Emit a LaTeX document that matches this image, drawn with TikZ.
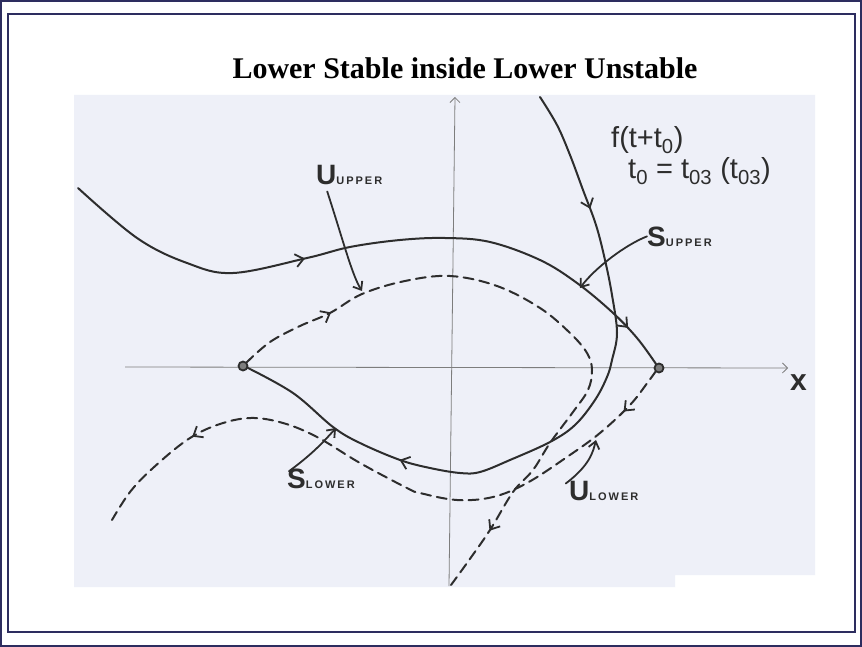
\documentclass[tikz,border=0pt]{standalone}
\usepackage{fontspec}
\setmainfont{Liberation Serif}
\setsansfont{Liberation Sans}
\usetikzlibrary{arrows.meta, decorations.markings}

\definecolor{paper}{RGB}{238,240,248}
\definecolor{frame}{RGB}{45,45,95}
\definecolor{pen}{RGB}{45,45,45}
\definecolor{axisgray}{RGB}{125,125,125}
\newcommand{\lowcaps}[1]{{\fontsize{11}{11}\selectfont\addfontfeature{LetterSpace=18}#1}}

\begin{document}
\begin{tikzpicture}[
    x=1pt, y=-1pt,
    curve/.style={draw=pen, line width=2pt, line cap=round, line join=round},
    dashcurve/.style={curve, dash pattern=on 10pt off 6pt},
    axisline/.style={draw=axisgray, line width=0.8pt, -{Straight Barb[length=5pt, width=10pt]}},
    flow/.style={postaction={decorate, decoration={markings, mark=at position #1 with {\arrow[pen, line width=1.8pt]{Straight Barb[length=8pt, width=13pt]}}}}},
    line/.style={draw=pen, line width=1.8pt, line cap=round, -{Straight Barb[length=7pt, width=11pt]}},
    hand/.style={font=\sffamily\bfseries\fontsize{28}{28}\selectfont, text=pen, inner sep=0pt, anchor=base west},
    formula/.style={hand, font=\sffamily\fontsize{29}{29}\selectfont},
    saddle/.style={circle, draw=pen, fill=axisgray, line width=1.8pt, minimum size=9pt, inner sep=0pt}
]
    \useasboundingbox (0,0) rectangle (862,647);
    \fill [white] (0,0) rectangle (862,647);
    \draw [frame, line width=2.5pt] (1,1) rectangle (861,646);
    \draw [frame, line width=1.2pt] (8,14) rectangle (855,632);
    \fill [paper] (74,95) -- (815,95) -- (815,575) -- (675,575) -- (675,587) -- (74,587) -- cycle;

    % Axes
    \coordinate (xstart) at (125,367);
    \coordinate (xend) at (788,368);
    \coordinate (ybot) at (449,586);
    \coordinate (ytop) at (455,97);
    \path [axisline] (xstart) -- (xend);
    \path [axisline] (ybot) -- (ytop);

    % Manifolds
    \path [curve, flow=0.39, flow=0.93] plot [smooth, tension=0.6] coordinates {
        (78,188) (137,238) (187,263) (233,273) (307,258) (350,247) (400,240)
        (445,238) (490,242) (540,260) (577,283) (612,312) (637,338) (656,364)};
    \path [curve, flow=0.17, flow=0.75] plot [smooth, tension=0.6] coordinates {
        (540,97) (557,125) (570,155) (583,190) (596,225) (605,260) (612,295)
        (617,333) (612,360) (607,377) (595,400) (575,425) (550,442) (510,460)
        (480,472) (460,473) (430,468) (400,460) (360,443) (333,427) (293,393) (246,367)};
    \path [dashcurve, flow=0.15, flow=0.9] plot [smooth, tension=0.6] coordinates {
        (246,363) (270,342) (300,326) (330,313) (362,294) (405,281) (450,276)
        (497,286) (540,308) (570,333) (587,353) (592,370) (588,390) (573,412)
        (550,443) (533,470) (513,492) (490,530) (467,563) (451,585)};
    \path [dashcurve, flow=0.08, flow=0.82] plot [smooth, tension=0.6] coordinates {
        (656,371) (648,382) (630,405) (600,433) (567,457) (527,483) (493,497)
        (457,500) (420,493) (407,488) (360,463) (317,437) (283,423) (250,418)
        (217,425) (187,440) (153,468) (130,492) (112,520)};

    % Nodes
    \node [font=\bfseries\fontsize{30}{30}\selectfont] (title) at (465,68) {Lower Stable inside Lower Unstable};
    \node [saddle] (lsaddle) at (243,366) {};
    \node [saddle] (rsaddle) at (659,368) {};
    \node [hand, font=\sffamily\bfseries\fontsize{30}{30}\selectfont] (xlabel) at (790,390) {x};
    \node [hand] (uupper) at (316,185) {U\lowcaps{UPPER}};
    \node [hand] (supper) at (647,247) {S\lowcaps{UPPER}};
    \node [hand] (slower) at (287,488) {S\lowcaps{LOWER}};
    \node [hand] (ulower) at (569,500) {U\lowcaps{LOWER}};
    \node [formula] (shift) at (611,148) {f(t+t\textsubscript{0})};
    \node [formula] (tzero) at (628,179) {t\textsubscript{0} = t\textsubscript{03} (t\textsubscript{03})};

    % Edges
    \coordinate (uuppertip) at (362,291);
    \coordinate (suppertip) at (580,288);
    \coordinate (slowertip) at (336,428);
    \coordinate (ulowertip) at (596,440);
    \path [line] ([xshift=-22pt, yshift=-6pt]uupper.south) .. controls (343,240) and (352,275) .. (uuppertip);
    \path [line] ([yshift=1pt]supper.west) .. controls (625,245) and (595,268) .. (suppertip);
    \path [line] ([xshift=-32pt, yshift=-3pt]slower.north) .. controls (315,452) and (325,440) .. (slowertip);
    \path [line] ([xshift=-38pt, yshift=-3pt]ulower.north) .. controls (590,465) and (593,452) .. (ulowertip);
\end{tikzpicture}
\end{document}
